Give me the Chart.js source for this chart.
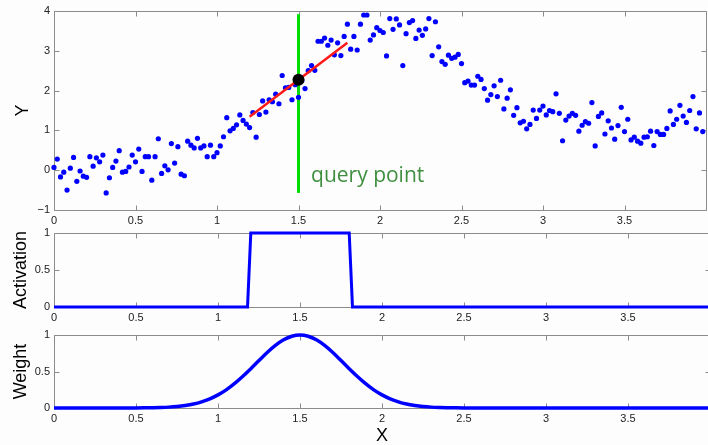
<!DOCTYPE html>
<html>
<head>
<meta charset="utf-8">
<script src="https://cdn.jsdelivr.net/npm/chart.js@4.4.1/dist/chart.umd.min.js"></script>
<style>
  html, body { margin:0; padding:0; background:#fdfdfd; overflow:hidden; width:708px; height:445px; }
  canvas { position:absolute; left:0; }
</style>
</head>
<body>
<canvas id="c-top" width="712" height="230" style="top:0px"></canvas>
<canvas id="c-act" width="712" height="108" style="top:222px"></canvas>
<canvas id="c-wt"  width="712" height="121" style="top:324px"></canvas>
<script>
// ─── Data ────────────────────────────────────────────────────────────────────

const sampleX = [
  0,0.02,0.04,0.06,0.08,0.1,0.12,0.14,0.16,0.18,
  0.2,0.22,0.24,0.26,0.28,0.3,0.32,0.34,0.36,0.38,
  0.4,0.42,0.44,0.46,0.48,0.5,0.52,0.54,0.56,0.58,
  0.6,0.62,0.64,0.66,0.68,0.7,0.72,0.74,0.76,0.78,
  0.8,0.82,0.84,0.86,0.88,0.9,0.92,0.94,0.96,0.98,
  1,1.02,1.04,1.06,1.08,1.1,1.12,1.14,1.16,1.18,
  1.2,1.22,1.24,1.26,1.28,1.3,1.32,1.34,1.36,1.38,
  1.4,1.42,1.44,1.46,1.48,1.5,1.52,1.54,1.56,1.58,
  1.6,1.62,1.64,1.66,1.68,1.7,1.72,1.74,1.76,1.78,
  1.8,1.82,1.84,1.86,1.88,1.9,1.92,1.94,1.96,1.98,
  2,2.02,2.04,2.06,2.08,2.1,2.12,2.14,2.16,2.18,
  2.2,2.22,2.24,2.26,2.28,2.3,2.32,2.34,2.36,2.38,
  2.4,2.42,2.44,2.46,2.48,2.5,2.52,2.54,2.56,2.58,
  2.6,2.62,2.64,2.66,2.68,2.7,2.72,2.74,2.76,2.78,
  2.8,2.82,2.84,2.86,2.88,2.9,2.92,2.94,2.96,2.98,
  3,3.02,3.04,3.06,3.08,3.1,3.12,3.14,3.16,3.18,
  3.2,3.22,3.24,3.26,3.28,3.3,3.32,3.34,3.36,3.38,
  3.4,3.42,3.44,3.46,3.48,3.5,3.52,3.54,3.56,3.58,
  3.6,3.62,3.64,3.66,3.68,3.7,3.72,3.74,3.76,3.78,
  3.8,3.82,3.84,3.86,3.88,3.9,3.92,3.94,3.96,3.98
];
const sampleY = [
  0.07,0.28,-0.17,-0.05,-0.50,0.05,0.32,-0.28,-0.02,-0.15,
  -0.18,0.34,0.10,0.31,0.21,0.38,-0.57,-0.19,0.07,0.23,
  0.49,-0.05,-0.03,0.08,0.38,0.21,0.53,-0.03,0.34,0.34,
  -0.25,0.34,0.79,-0.08,0.11,0.01,0.67,0.18,0.59,-0.10,
  -0.14,0.73,0.63,0.56,0.80,0.56,0.61,0.34,0.63,0.34,
  0.44,0.61,0.84,1.32,0.99,1.05,1.14,1.39,1.25,1.16,
  1.07,1.45,0.83,1.40,1.74,1.46,1.77,1.72,1.91,1.67,
  2.38,2.07,2.08,1.77,2.15,1.83,2.25,2.05,2.50,2.63,
  2.51,3.24,3.24,3.32,3.14,3.27,2.90,3.20,2.88,3.36,
  3.67,3.04,3.36,3.02,3.67,3.90,3.90,3.27,3.40,3.58,
  3.51,3.46,2.87,3.81,3.54,3.80,3.65,2.63,3.43,3.71,
  3.76,3.31,3.52,3.39,3.55,3.81,2.88,3.73,3.10,2.73,
  2.66,2.89,2.81,2.84,2.91,2.68,2.20,2.24,2.14,2.14,
  2.36,2.28,2.05,1.76,1.90,2.12,1.85,2.26,1.54,1.81,
  2.02,1.38,1.57,1.19,1.23,1.04,1.15,1.51,1.30,1.51,
  1.61,1.39,1.50,1.47,1.92,1.43,0.74,1.26,1.36,1.43,
  1.38,0.98,1.13,1.22,1.18,1.70,0.61,1.35,1.44,0.91,
  1.24,1.06,0.78,1.12,1.58,0.97,1.28,0.76,0.83,0.73,
  0.68,0.83,0.84,0.98,0.62,0.97,0.90,0.90,1.05,1.49,
  1.15,1.28,1.63,1.36,1.20,1.50,1.85,1.04,1.44,0.97
];

// local linear fit and the query point
const fitX   = [1.2, 1.8];
const fitY   = [1.34, 3.20];
const queryX = [1.5];
const queryY = [2.27];
const queryLineX = [1.5, 1.5];
const queryLineY = [-0.57, 3.92];

// box kernel
const actX = [0, 1.18, 1.2, 1.8, 1.82, 4];
const actY = [0, 0,    1,   1,   0,    0];

// gaussian kernel
const weightX = [0, 0.5, 0.55, 0.6, 0.65, 0.7, 0.75, 0.8, 0.85, 0.9, 0.95, 1, 1.05, 1.1, 1.15, 1.2, 1.25,
                 1.3, 1.35, 1.4, 1.45, 1.5, 1.55, 1.6, 1.65, 1.7, 1.75, 1.8, 1.85, 1.9, 1.95, 2,
                 2.05, 2.1, 2.15, 2.2, 2.25, 2.3, 2.35, 2.4, 2.45, 2.5, 4];
const weightY = [0, 0.001, 0.002, 0.004, 0.007, 0.012, 0.021, 0.035, 0.055, 0.085, 0.126, 0.180, 0.249, 0.334, 0.432, 0.539, 0.651,
                 0.760, 0.857, 0.934, 0.983, 1.000, 0.983, 0.934, 0.857, 0.760, 0.651, 0.539, 0.432, 0.334, 0.249, 0.180,
                 0.126, 0.085, 0.055, 0.035, 0.021, 0.012, 0.007, 0.004, 0.002, 0.001, 0];

const xTicks      = [0, 0.5, 1, 1.5, 2, 2.5, 3, 3.5];
const yTicksTop   = [-1, 0, 1, 2, 3, 4];
const yTicksKern  = [0, 0.5, 1];

// ─── Style ───────────────────────────────────────────────────────────────────

const AXIS_GRAY  = '#8c8c8c';
const TICK_LEN   = 5;
const TICK_FONT  = { family: "'Liberation Sans', Arial, sans-serif", size: 11 };
const TICK_COLOR = '#222';
const TITLE_FONT = { family: "'Liberation Sans', Arial, sans-serif", size: 18, lineHeight: 1 };

const pts = (xs, ys) => xs.map((x, i) => ({ x, y: ys[i] }));
const fmt = v => v < 0 ? '\u2212' + (-v) : String(v);

// MATLAB-style box with inward ticks on all four sides
const boxPlugin = {
  id: 'matlabBox',
  beforeDatasetsDraw(chart) {
    const { ctx, chartArea: a, scales: { x, y } } = chart;
    const L = Math.round(a.left) + 0.5, R = Math.round(a.right) + 0.5;
    const T = Math.round(a.top) + 0.5,  B = Math.round(a.bottom) + 0.5;
    ctx.save();
    ctx.strokeStyle = AXIS_GRAY;
    ctx.lineWidth = 1;
    ctx.beginPath();
    ctx.rect(L, T, R - L, B - T);
    x.ticks.forEach(t => {
      const px = Math.round(x.getPixelForValue(t.value)) + 0.5;
      ctx.moveTo(px, B); ctx.lineTo(px, B - TICK_LEN);
      ctx.moveTo(px, T); ctx.lineTo(px, T + TICK_LEN);
    });
    y.ticks.forEach(t => {
      const py = Math.round(y.getPixelForValue(t.value)) + 0.5;
      ctx.moveTo(L, py); ctx.lineTo(L + TICK_LEN, py);
      ctx.moveTo(R, py); ctx.lineTo(R - TICK_LEN, py);
    });
    ctx.stroke();
    ctx.restore();
  }
};

const queryLabel = {
  id: 'queryLabel',
  afterDatasetsDraw(chart) {
    const { ctx, scales: { x, y } } = chart;
    ctx.save();
    ctx.font = "21px 'Open Sans', sans-serif";
    ctx.fillStyle = '#3f8f3f';
    ctx.textAlign = 'left';
    ctx.textBaseline = 'alphabetic';
    ctx.fillText('query point', x.getPixelForValue(1.577), y.getPixelForValue(-0.30));
    ctx.restore();
  }
};

function xScale(height, title) {
  return {
    type: 'linear', min: 0, max: 4,
    afterBuildTicks: s => { s.ticks = xTicks.map(v => ({ value: v })); },
    afterFit: s => { s.height = height; },
    grid: { display: false, drawTicks: false },
    border: { display: false },
    ticks: { padding: 4, font: TICK_FONT, color: TICK_COLOR, maxRotation: 0, autoSkip: false, callback: fmt },
    title: title ? { display: true, text: title, font: TITLE_FONT, color: '#000', padding: { top: 0, bottom: 0 } } : { display: false }
  };
}

function yScale(min, max, ticks, title, pad) {
  return {
    type: 'linear', min, max,
    afterBuildTicks: s => { s.ticks = ticks.map(v => ({ value: v })); },
    afterFit: s => { s.width = 54; },
    grid: { display: false, drawTicks: false },
    border: { display: false },
    ticks: { padding: 4, font: TICK_FONT, color: TICK_COLOR, autoSkip: false, callback: fmt },
    title: { display: true, text: title, font: TITLE_FONT, color: '#000', padding: { top: pad, bottom: 0 } }
  };
}

const baseOpts = (padTop, xs, ys) => ({
  responsive: false,
  animation: false,
  layout: { padding: { top: padTop, left: 0, right: 2, bottom: 0 } },
  plugins: { legend: { display: false }, tooltip: { enabled: false } },
  scales: { x: xs, y: ys }
});

// ─── Top: samples + local fit ────────────────────────────────────────────────

new Chart(document.getElementById('c-top'), {
  type: 'scatter',
  data: {
    datasets: [
      { label: 'query', data: pts(queryX, queryY), pointRadius: 6, backgroundColor: '#000', borderWidth: 0, order: 0, clip: false },
      { label: 'fit', data: pts(fitX, fitY), showLine: true, borderColor: '#ff1a1a', borderWidth: 2.5, pointRadius: 0, order: 1 },
      { label: 'samples', data: pts(sampleX, sampleY), pointRadius: 2.6, backgroundColor: '#0000ff', borderWidth: 0, order: 2, clip: false },
      { label: 'query line', data: pts(queryLineX, queryLineY), showLine: true, borderColor: '#00dd00', borderWidth: 3, pointRadius: 0, order: 3 }
    ]
  },
  options: baseOpts(11, xScale(20), yScale(-1, 4, yTicksTop, 'Y', 14)),
  plugins: [boxPlugin, queryLabel]
});

// ─── Middle: activation ──────────────────────────────────────────────────────

new Chart(document.getElementById('c-act'), {
  type: 'scatter',
  data: {
    datasets: [
      { label: 'activation', data: pts(actX, actY), showLine: true, borderColor: '#0000ff', borderWidth: 3, pointRadius: 0, tension: 0, clip: false }
    ]
  },
  options: baseOpts(11, xScale(23), yScale(0, 1, yTicksKern, 'Activation', 12)),
  plugins: [boxPlugin]
});

// ─── Bottom: weight ──────────────────────────────────────────────────────────

new Chart(document.getElementById('c-wt'), {
  type: 'scatter',
  data: {
    datasets: [
      { label: 'weight', data: pts(weightX, weightY), showLine: true, borderColor: '#0000ff', borderWidth: 3.5, pointRadius: 0, cubicInterpolationMode: 'monotone', clip: false }
    ]
  },
  options: baseOpts(11, xScale(37, 'X'), yScale(0, 1, yTicksKern, 'Weight', 12)),
  plugins: [boxPlugin]
});
</script>
</body>
</html>
